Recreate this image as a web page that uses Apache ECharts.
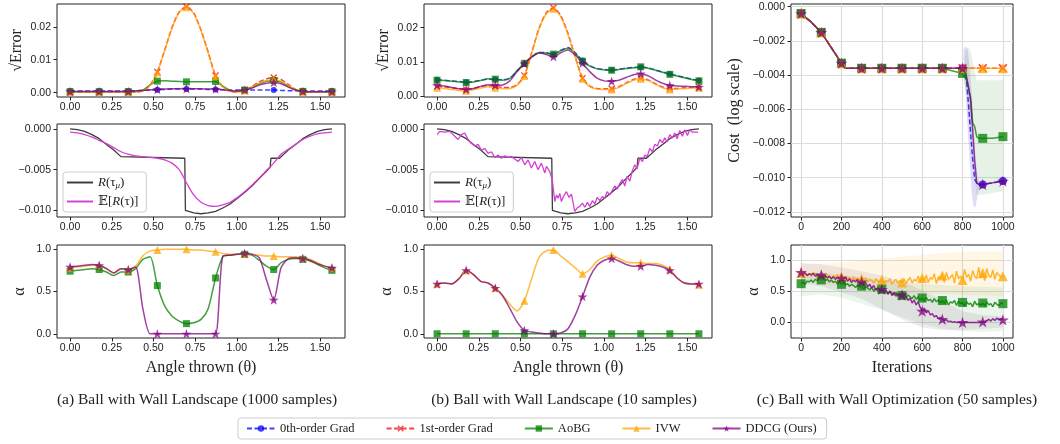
<!DOCTYPE html>
<html>
<head>
<meta charset="utf-8">
<script src="https://cdn.jsdelivr.net/npm/echarts@6/dist/echarts.min.js"></script>
<style>
  html, body { margin: 0; padding: 0; background: #fff; }
  #main { width: 1060px; height: 444px; }
</style>
</head>
<body>
<div id="main"></div>
<script>
const chart = echarts.init(document.getElementById('main'))

// angle thrown (rad), sampled every 2.5 deg; markers every 10 deg
const angles = [0.0000, 0.0436, 0.0873, 0.1309, 0.1745, 0.2182, 0.2618, 0.3054, 0.3491, 0.3927, 0.4363, 0.4800, 0.5236, 0.5672, 0.6109, 0.6545, 0.6981, 0.7418, 0.7854, 0.8290, 0.8727, 0.9163, 0.9599, 1.0036, 1.0472, 1.0908, 1.1345, 1.1781, 1.2217, 1.2654, 1.3090, 1.3526, 1.3963, 1.4399, 1.4835, 1.5272, 1.5708]
const angleTicks = [0, 0.25, 0.5, 0.75, 1.0, 1.25, 1.5]
const iterTicks = [0, 200, 400, 600, 800, 1000]

// (a) sqrt error, 1000 samples
const a1Blue   = [0.0005,0.0005,0.0005,0.0005,0.0005,0.0005,0.0005,0.0005,0.0005,0.0006,0.0007,0.0008,0.0009,0.0010,0.0011,0.0011,0.0011,0.0011,0.0011,0.0010,0.0010,0.0009,0.0008,0.0008,0.0008,0.0008,0.0008,0.0008,0.0008,0.0007,0.0006,0.0006,0.0005,0.0005,0.0005,0.0005,0.0005]
const a1Red    = [0.0002,0.0002,0.0002,0.0002,0.0002,0.0002,0.0002,0.0002,0.0002,0.0002,0.0005,0.0023,0.0063,0.0129,0.0197,0.0245,0.0261,0.0242,0.0190,0.0122,0.0052,0.0018,0.0005,0.0002,0.0008,0.0019,0.0033,0.0042,0.0046,0.0040,0.0025,0.0010,0.0003,0.0002,0.0002,0.0002,0.0002]
const a1Green  = [0.0003,0.0003,0.0003,0.0003,0.0003,0.0003,0.0003,0.0003,0.0003,0.0004,0.0008,0.0024,0.0035,0.0036,0.0035,0.0034,0.0033,0.0033,0.0033,0.0033,0.0034,0.0020,0.0007,0.0004,0.0008,0.0016,0.0027,0.0035,0.0037,0.0032,0.0020,0.0009,0.0004,0.0003,0.0003,0.0003,0.0003]
const a1Orange = [0.0002,0.0002,0.0002,0.0002,0.0002,0.0002,0.0002,0.0002,0.0002,0.0002,0.0005,0.0022,0.0061,0.0127,0.0195,0.0243,0.0259,0.0240,0.0188,0.0120,0.0050,0.0017,0.0005,0.0002,0.0007,0.0017,0.0029,0.0037,0.0040,0.0035,0.0022,0.0009,0.0003,0.0002,0.0002,0.0002,0.0002]
const a1Purple = [0.0004,0.0004,0.0004,0.0004,0.0004,0.0004,0.0004,0.0004,0.0004,0.0005,0.0007,0.0009,0.0010,0.0011,0.0012,0.0012,0.0012,0.0012,0.0012,0.0011,0.0011,0.0009,0.0006,0.0005,0.0008,0.0014,0.0023,0.0029,0.0031,0.0027,0.0017,0.0008,0.0004,0.0003,0.0003,0.0003,0.0003]

// (b) sqrt error, 10 samples
const b1Blue   = [0.0048,0.0047,0.0045,0.0043,0.0041,0.0043,0.0047,0.0050,0.0049,0.0048,0.0053,0.0074,0.0094,0.0114,0.0128,0.0127,0.0122,0.0134,0.0142,0.0127,0.0104,0.0089,0.0081,0.0078,0.0077,0.0079,0.0082,0.0084,0.0085,0.0083,0.0077,0.0071,0.0065,0.0060,0.0055,0.0050,0.0046]
const b1Red    = [0.0028,0.0027,0.0025,0.0022,0.0020,0.0023,0.0028,0.0031,0.0029,0.0026,0.0026,0.0034,0.0061,0.0127,0.0197,0.0243,0.0258,0.0235,0.0183,0.0115,0.0053,0.0030,0.0023,0.0022,0.0022,0.0028,0.0039,0.0049,0.0053,0.0048,0.0037,0.0027,0.0022,0.0023,0.0025,0.0026,0.0027]
const b1Green  = [0.0047,0.0046,0.0044,0.0042,0.0040,0.0042,0.0046,0.0051,0.0050,0.0047,0.0052,0.0075,0.0096,0.0115,0.0127,0.0126,0.0123,0.0133,0.0140,0.0125,0.0102,0.0088,0.0080,0.0077,0.0076,0.0078,0.0081,0.0083,0.0086,0.0082,0.0076,0.0070,0.0064,0.0059,0.0054,0.0049,0.0045]
const b1Orange = [0.0025,0.0023,0.0020,0.0017,0.0016,0.0019,0.0024,0.0028,0.0025,0.0022,0.0023,0.0032,0.0059,0.0125,0.0195,0.0240,0.0255,0.0232,0.0180,0.0112,0.0051,0.0028,0.0021,0.0020,0.0020,0.0026,0.0037,0.0047,0.0051,0.0046,0.0035,0.0025,0.0020,0.0021,0.0023,0.0024,0.0025]
const b1Purple = [0.0032,0.0030,0.0026,0.0022,0.0020,0.0023,0.0029,0.0034,0.0032,0.0033,0.0045,0.0072,0.0095,0.0114,0.0126,0.0122,0.0115,0.0127,0.0135,0.0120,0.0096,0.0072,0.0053,0.0045,0.0044,0.0047,0.0055,0.0063,0.0066,0.0060,0.0048,0.0038,0.0032,0.0030,0.0029,0.0028,0.0027]

// landscape: R(tau_mu) (shared by a and b)
const rMuX = [0, 0.044, 0.087, 0.131, 0.175, 0.218, 0.262, 0.305, 0.315, 0.688, 0.692, 0.742, 0.785, 0.829, 0.873, 0.916, 0.960, 1.004, 1.047, 1.091, 1.134, 1.178, 1.200, 1.205, 1.256, 1.309, 1.353, 1.396, 1.440, 1.484, 1.527, 1.571]
const rMuY = [0, -0.0001, -0.0003, -0.0007, -0.0012, -0.0019, -0.0026, -0.0034, -0.0036, -0.0036, -0.0100, -0.0103, -0.0104, -0.0103, -0.0101, -0.0097, -0.0092, -0.0085, -0.0078, -0.0070, -0.0061, -0.0052, -0.0047, -0.0036, -0.0036, -0.0026, -0.0019, -0.0012, -0.0007, -0.0003, -0.0001, 0]
// E[R(tau)], 1000 samples (on angles)
const a2Mean = [-0.0004,-0.0005,-0.0007,-0.0010,-0.0014,-0.0018,-0.0023,-0.0028,-0.0031,-0.0033,-0.0034,-0.0035,-0.0036,-0.0038,-0.0042,-0.0050,-0.0066,-0.0081,-0.0090,-0.0094,-0.0095,-0.0093,-0.0090,-0.0084,-0.0077,-0.0069,-0.0060,-0.0051,-0.0042,-0.0031,-0.0025,-0.0019,-0.0013,-0.0009,-0.0006,-0.0005,-0.0004]
// E[R(tau)], 10 samples
const b2MeanX = [0.000,0.016,0.046,0.076,0.106,0.126,0.146,0.166,0.186,0.206,0.226,0.246,0.266,0.286,0.306,0.326,0.346,0.366,0.386,0.406,0.426,0.446,0.466,0.486,0.506,0.526,0.546,0.566,0.586,0.606,0.626,0.646,0.656,0.676,0.692,0.706,0.716,0.726,0.736,0.746,0.760,0.776,0.792,0.806,0.826,0.840,0.856,0.872,0.886,0.902,0.916,0.932,0.946,0.960,0.976,0.992,1.006,1.020,1.036,1.052,1.066,1.080,1.096,1.112,1.126,1.140,1.156,1.172,1.186,1.200,1.216,1.232,1.246,1.260,1.276,1.292,1.306,1.322,1.336,1.352,1.366,1.380,1.396,1.412,1.426,1.440,1.456,1.472,1.486,1.502,1.516,1.532,1.566]
const b2MeanY = [-0.0007,-0.0003,-0.0004,-0.0003,-0.0009,-0.0013,-0.0007,-0.0005,-0.0013,-0.0018,-0.0021,-0.0019,-0.0026,-0.0024,-0.0030,-0.0028,-0.0035,-0.0032,-0.0036,-0.0033,-0.0035,-0.0034,-0.0037,-0.0040,-0.0035,-0.0044,-0.0038,-0.0048,-0.0040,-0.0050,-0.0042,-0.0054,-0.0046,-0.0052,-0.0064,-0.0089,-0.0081,-0.0085,-0.0079,-0.0089,-0.0082,-0.0077,-0.0084,-0.0080,-0.0101,-0.0097,-0.0095,-0.0091,-0.0096,-0.0090,-0.0095,-0.0088,-0.0092,-0.0084,-0.0088,-0.0083,-0.0085,-0.0077,-0.0081,-0.0075,-0.0070,-0.0074,-0.0067,-0.0062,-0.0070,-0.0058,-0.0064,-0.0051,-0.0044,-0.0049,-0.0036,-0.0040,-0.0032,-0.0034,-0.0024,-0.0028,-0.0019,-0.0021,-0.0013,-0.0017,-0.0011,-0.0016,-0.0007,-0.0011,-0.0005,-0.0012,-0.0002,-0.0009,-0.0001,-0.0008,-0.0001,-0.0004,-0.0004]

// alpha, 1000 samples
const a3Green  = [0.74,0.75,0.76,0.77,0.76,0.73,0.69,0.73,0.73,0.77,0.88,0.91,0.57,0.33,0.21,0.15,0.12,0.13,0.17,0.30,0.66,0.91,0.93,0.94,0.94,0.93,0.87,0.80,0.76,0.84,0.88,0.89,0.88,0.86,0.82,0.78,0.75]
const a3Orange = [0.78,0.79,0.80,0.81,0.81,0.77,0.72,0.77,0.76,0.80,0.92,0.98,0.99,1.00,1.00,1.00,1.00,0.99,0.99,0.98,0.97,0.95,0.94,0.94,0.95,0.94,0.93,0.92,0.92,0.91,0.91,0.91,0.90,0.88,0.84,0.80,0.78]
const a3Purple = [0.79,0.80,0.81,0.82,0.81,0.77,0.72,0.77,0.76,0.79,0.30,0.00,0.00,0.00,0.00,0.00,0.00,0.00,0.00,0.00,0.00,0.92,0.93,0.94,0.95,0.94,0.90,0.64,0.40,0.78,0.89,0.90,0.89,0.87,0.83,0.80,0.78]

// alpha, 10 samples
const b3Green  = [0,0,0,0,0,0,0,0,0,0,0,0,0,0,0,0,0,0,0,0,0,0,0,0,0,0,0,0,0,0,0,0,0,0,0,0,0]
const b3Orange = [0.59,0.60,0.59,0.65,0.75,0.70,0.62,0.60,0.54,0.46,0.35,0.27,0.39,0.65,0.90,0.98,0.99,0.92,0.85,0.78,0.71,0.76,0.86,0.91,0.93,0.89,0.85,0.84,0.84,0.83,0.83,0.81,0.76,0.66,0.60,0.59,0.58]
const b3Purple = [0.59,0.60,0.59,0.65,0.75,0.70,0.62,0.60,0.54,0.45,0.30,0.14,0.04,0.02,0.01,0.00,0.00,0.01,0.06,0.22,0.44,0.67,0.81,0.87,0.89,0.86,0.82,0.80,0.80,0.82,0.81,0.79,0.75,0.66,0.60,0.59,0.59]

// (c) cost over iterations
const costIter   = [0, 50, 100, 150, 200, 220, 300, 400, 500, 600, 700, 800, 810, 820, 830, 840, 850, 860, 870, 880, 900, 950, 1000]
const costBlue   = [-0.0004,-0.0009,-0.0015,-0.0024,-0.0033,-0.0036,-0.0036,-0.0036,-0.0036,-0.0036,-0.0036,-0.0036,-0.0038,-0.0043,-0.0058,-0.0074,-0.0089,-0.0101,-0.0103,-0.0104,-0.0104,-0.0103,-0.0102]
const costRed    = [-0.0004,-0.0009,-0.0015,-0.0024,-0.0033,-0.0036,-0.0036,-0.0036,-0.0036,-0.0036,-0.0036,-0.0036,-0.0036,-0.0036,-0.0036,-0.0036,-0.0036,-0.0036,-0.0036,-0.0036,-0.0036,-0.0036,-0.0036]
const costGreen  = [-0.0004,-0.0009,-0.0015,-0.0024,-0.0033,-0.0036,-0.0036,-0.0036,-0.0036,-0.0036,-0.0036,-0.0039,-0.0041,-0.0043,-0.0048,-0.0053,-0.0068,-0.0070,-0.0076,-0.0077,-0.0077,-0.0077,-0.0076]
const costOrange = [-0.0004,-0.0009,-0.0015,-0.0024,-0.0033,-0.0036,-0.0036,-0.0036,-0.0036,-0.0036,-0.0036,-0.0036,-0.0036,-0.0036,-0.0036,-0.0036,-0.0036,-0.0036,-0.0036,-0.0036,-0.0036,-0.0036,-0.0036]
const costPurple = [-0.0004,-0.0009,-0.0015,-0.0024,-0.0033,-0.0036,-0.0036,-0.0036,-0.0036,-0.0036,-0.0036,-0.0036,-0.0037,-0.0041,-0.0047,-0.0055,-0.0072,-0.0090,-0.0103,-0.0104,-0.0104,-0.0103,-0.0102]
const costGreenBandX  = [810, 820, 830, 840, 850, 860, 870, 880, 900, 950, 1000]
const costGreenBandLo = [-0.0045,-0.0052,-0.0062,-0.0075,-0.0090,-0.0100,-0.0110,-0.0110,-0.0110,-0.0109,-0.0108]
const costGreenBandHi = [-0.0030,-0.0024,-0.0024,-0.0026,-0.0032,-0.0038,-0.0043,-0.0043,-0.0043,-0.0043,-0.0043]
const costPurpleBandX  = [805, 815, 825, 835, 845, 855, 865, 875, 885]
const costPurpleBandLo = [-0.0040,-0.0050,-0.0070,-0.0090,-0.0108,-0.0117,-0.0117,-0.0110,-0.0105]
const costPurpleBandHi = [-0.0025,-0.0023,-0.0025,-0.0035,-0.0050,-0.0070,-0.0090,-0.0100,-0.0103]

// (c) alpha over iterations, every 10 iterations
const alphaIter = Array.from({ length: 101 }, (_, i) => i * 10)
const alphaOrange = [0.79,0.76,0.80,0.75,0.78,0.74,0.77,0.79,0.73,0.76, 0.75,0.78,0.72,0.76,0.74,0.70,0.75,0.72,0.77,0.71, 0.73,0.69,0.74,0.70,0.72,0.67,0.73,0.69,0.71,0.66, 0.70,0.68,0.72,0.65,0.69,0.67,0.63,0.70,0.66,0.64, 0.68,0.62,0.67,0.65,0.70,0.61,0.66,0.69,0.63,0.67, 0.64,0.70,0.62,0.68,0.72,0.63,0.69,0.66,0.74,0.65, 0.71,0.67,0.76,0.64,0.72,0.69,0.78,0.62,0.73,0.70, 0.75,0.64,0.80,0.69,0.72,0.77,0.63,0.82,0.70,0.74, 0.68,0.85,0.72,0.77,0.66,0.83,0.74,0.70,0.88,0.71, 0.79,0.67,0.86,0.75,0.72,0.84,0.69,0.80,0.76,0.73, 0.74]
const alphaGreen  = [0.62,0.64,0.61,0.66,0.65,0.68,0.64,0.69,0.67,0.70, 0.68,0.71,0.67,0.69,0.65,0.68,0.64,0.66,0.62,0.65, 0.61,0.64,0.60,0.62,0.58,0.61,0.59,0.56,0.60,0.57, 0.58,0.54,0.57,0.55,0.52,0.56,0.50,0.54,0.51,0.48, 0.53,0.49,0.51,0.46,0.50,0.47,0.44,0.48,0.42,0.46, 0.43,0.47,0.40,0.44,0.41,0.38,0.43,0.37,0.41,0.36, 0.39,0.34,0.40,0.35,0.37,0.32,0.38,0.33,0.36,0.31, 0.35,0.30,0.36,0.28,0.33,0.31,0.35,0.27,0.34,0.30, 0.32,0.26,0.33,0.29,0.31,0.25,0.34,0.28,0.30,0.27, 0.31,0.26,0.33,0.28,0.30,0.25,0.32,0.29,0.27,0.31, 0.30]
const alphaPurple = [0.80,0.77,0.79,0.75,0.78,0.76,0.79,0.74,0.77,0.75, 0.76,0.73,0.75,0.71,0.74,0.70,0.73,0.69,0.72,0.70, 0.71,0.67,0.72,0.66,0.70,0.64,0.68,0.65,0.69,0.62, 0.65,0.60,0.64,0.57,0.61,0.55,0.59,0.52,0.56,0.50, 0.53,0.47,0.52,0.45,0.50,0.43,0.48,0.42,0.46,0.40, 0.44,0.38,0.42,0.35,0.39,0.31,0.36,0.28,0.33,0.24, 0.18,0.23,0.15,0.19,0.12,0.14,0.09,0.11,0.06,0.08, 0.05,0.03,0.04,0.01,0.02,0.00,0.01,0.00,0.00,0.00, 0.00,0.00,0.00,0.00,0.00,0.00,0.00,0.00,0.00,0.00, 0.01,0.00,0.03,0.05,0.02,0.06,0.03,0.07,0.04,0.06, 0.04]
const bandIter = [0, 100, 200, 300, 400, 500, 600, 700, 800, 900, 1000]
const orangeBandLo = [0.66, 0.62, 0.58, 0.52, 0.48, 0.46, 0.45, 0.45, 0.44, 0.43, 0.42]
const orangeBandHi = [0.93, 0.94, 0.96, 0.99, 1.02, 1.05, 1.08, 1.11, 1.13, 1.14, 1.13]
const greenBandLo  = [0.42, 0.45, 0.40, 0.30, 0.20, 0.08, -0.02, -0.10, -0.14, -0.15, -0.14]
const greenBandHi  = [0.78, 0.80, 0.76, 0.72, 0.68, 0.64, 0.62, 0.60, 0.58, 0.57, 0.56]
const purpleBandLo = [0.62, 0.58, 0.48, 0.38, 0.22, 0.05, -0.08, -0.12, -0.12, -0.10, -0.08]
const purpleBandHi = [0.95, 0.93, 0.88, 0.82, 0.75, 0.65, 0.52, 0.35, 0.18, 0.12, 0.10]

const SERIF = '"Liberation Serif", "DejaVu Serif", serif'
const SANS = '"Liberation Sans", Arial, sans-serif'
const STAR = 'path://M50,0 L61.2,34.5 L97.6,34.5 L68.2,55.9 L79.4,90.5 L50,69.1 L20.6,90.5 L31.8,55.9 L2.4,34.5 L38.8,34.5 Z'
const XMARK = 'path://M0,14 L14,0 L50,36 L86,0 L100,14 L64,50 L100,86 L86,100 L50,64 L14,100 L0,86 L36,50 Z'
const BAR = 'path://M0,0 L40,0 L40,3 L0,3 Z'

const methods = ['0th-order Grad', '1st-order Grad', 'AoBG', 'IVW', 'DDCG (Ours)']
const styles = {
  '0th-order Grad': { color: '#0000ff', symbol: 'circle', size: 6, dash: [5, 2.5] },
  '1st-order Grad': { color: '#ff0000', symbol: XMARK, size: 7, dash: [5, 2.5] },
  'AoBG': { color: '#008000', symbol: 'rect', size: 7 },
  'IVW': { color: '#ffa500', symbol: 'triangle', size: 8 },
  'DDCG (Ours)': { color: '#800080', symbol: STAR, size: 10 }
}

const every4 = (x, i) => i % 4 === 0
const hundreds = (x, i) => x % 100 === 0

function line(name, gi, xs, ys, markAt, extra) {
  const s = styles[name]
  return Object.assign({
    name: name,
    type: 'line',
    xAxisIndex: gi,
    yAxisIndex: gi,
    data: xs.map((x, i) => markAt(x, i) ? [x, ys[i]] : { value: [x, ys[i]], symbol: 'none' }),
    symbol: s.symbol,
    symbolSize: s.size,
    symbolKeepAspect: true,
    smooth: 0.25,
    lineStyle: { color: s.color, width: 1.5, type: s.dash || 'solid', opacity: 0.75 },
    itemStyle: { color: s.color, opacity: 0.75 },
    emphasis: { disabled: true }
  }, extra || {})
}

function plain(name, gi, xs, ys, color, smooth) {
  return {
    name: name, type: 'line', xAxisIndex: gi, yAxisIndex: gi,
    data: xs.map((x, i) => [x, ys[i]]),
    symbol: 'none', smooth: smooth,
    lineStyle: { color: color, width: 1.3 },
    itemStyle: { color: color },
    emphasis: { disabled: true }
  }
}

function band(gi, xs, lo, hi, color, opacity) {
  return {
    type: 'custom', xAxisIndex: gi, yAxisIndex: gi, silent: true, z: 1,
    data: xs.map((x, i) => [x, lo[i], hi[i]]),
    renderItem: (params, api) => {
      if (params.dataIndex !== 0) return
      const top = xs.map((x, i) => api.coord([x, hi[i]]))
      const bot = xs.map((x, i) => api.coord([x, lo[i]])).reverse()
      return { type: 'polygon', shape: { points: top.concat(bot) }, style: { fill: color, opacity: opacity } }
    }
  }
}

const fmt = d => v => v.toFixed(d).replace('-', '\u2212')
const labelStyle = { fontFamily: SANS, fontSize: 10.5, color: '#222' }
const nameStyle = { fontFamily: SERIF, fontSize: 16, color: '#222' }

// grids: a1 a2 a3 b1 b2 b3 c1 c3
const grids = [
  { left: 57, top: 4, width: 288, height: 93 },
  { left: 57, top: 124, width: 288, height: 93 },
  { left: 57, top: 245, width: 288, height: 93 },
  { left: 424, top: 4, width: 288, height: 93 },
  { left: 424, top: 124, width: 288, height: 93 },
  { left: 424, top: 245, width: 288, height: 93 },
  { left: 791, top: 4, width: 222, height: 213 },
  { left: 791, top: 245, width: 222, height: 93 }
].map(g => Object.assign({ show: true, borderColor: '#222', borderWidth: 1, backgroundColor: 'transparent' }, g))

function xAx(gi, isIter, name) {
  return {
    type: 'value', gridIndex: gi, position: 'bottom',
    min: isIter ? -50 : -0.0785, max: isIter ? 1050 : 1.6493,
    axisLine: { show: false, onZero: false },
    axisTick: { show: true, customValues: isIter ? iterTicks : angleTicks, length: 3.5, lineStyle: { color: '#222' } },
    axisLabel: { customValues: isIter ? iterTicks : angleTicks, formatter: isIter ? fmt(0) : fmt(2), margin: 5, ...labelStyle },
    splitLine: { show: isIter, lineStyle: { color: '#dcdcdc', width: 1.2 } },
    name: name || '', nameLocation: 'middle', nameGap: 22, nameTextStyle: nameStyle
  }
}

function yAx(gi, min, max, ticks, dec, name, gap, grid) {
  return {
    type: 'value', gridIndex: gi, position: 'left', min: min, max: max,
    axisLine: { show: false, onZero: false },
    axisTick: { show: true, customValues: ticks, length: 3.5, lineStyle: { color: '#222' } },
    axisLabel: { customValues: ticks, formatter: fmt(dec), margin: 6, ...labelStyle },
    splitLine: { show: !!grid, lineStyle: { color: '#dcdcdc', width: 1.2 } },
    name: name || '', nameLocation: 'middle', nameRotate: 90, nameGap: gap || 30, nameTextStyle: nameStyle
  }
}

const xAxes = [
  xAx(0), xAx(1), xAx(2, false, 'Angle thrown (\u03b8)'),
  xAx(3), xAx(4), xAx(5, false, 'Angle thrown (\u03b8)'),
  xAx(6, true), xAx(7, true, 'Iterations')
]
const yAxes = [
  yAx(0, -0.0013, 0.0269, [0, 0.01, 0.02], 2, '\u221aError', 32),
  yAx(1, -0.0108, 0.0006, [-0.01, -0.005, 0], 3),
  yAx(2, -0.05, 1.05, [0, 0.5, 1.0], 1, '\u03b1', 29),
  yAx(3, -0.0002, 0.0269, [0, 0.01, 0.02], 2, '\u221aError', 32),
  yAx(4, -0.0108, 0.0006, [-0.01, -0.005, 0], 3),
  yAx(5, -0.05, 1.05, [0, 0.5, 1.0], 1, '\u03b1', 29),
  yAx(6, -0.0123, 0.00016, [-0.012, -0.010, -0.008, -0.006, -0.004, -0.002, 0], 3, 'Cost  (log scale)', 48, true),
  yAx(7, -0.25, 1.24, [0, 0.5, 1.0], 1, '\u03b1', 29, true)
]

const R_MU = 'R(\u03c4\u03bc)'
const E_R = '\u{1D53C}[R(\u03c4)]'
const series = [
  // (a) error
  line(methods[0], 0, angles, a1Blue, every4),
  line(methods[1], 0, angles, a1Red, every4),
  line(methods[2], 0, angles, a1Green, every4),
  line(methods[3], 0, angles, a1Orange, every4),
  line(methods[4], 0, angles, a1Purple, every4),
  // (a) landscape
  plain(R_MU, 1, rMuX, rMuY, '#3c3c3c', false),
  plain(E_R, 1, angles, a2Mean, '#d43fd4', 0.3),
  // (a) alpha
  line(methods[2], 2, angles, a3Green, every4),
  line(methods[3], 2, angles, a3Orange, every4),
  line(methods[4], 2, angles, a3Purple, every4),
  // (b) error
  line(methods[0], 3, angles, b1Blue, every4),
  line(methods[1], 3, angles, b1Red, every4),
  line(methods[2], 3, angles, b1Green, every4),
  line(methods[3], 3, angles, b1Orange, every4),
  line(methods[4], 3, angles, b1Purple, every4),
  // (b) landscape
  plain(R_MU, 4, rMuX, rMuY, '#3c3c3c', false),
  plain(E_R, 4, b2MeanX, b2MeanY, '#d43fd4', false),
  // (b) alpha
  line(methods[2], 5, angles, b3Green, every4),
  line(methods[3], 5, angles, b3Orange, every4),
  line(methods[4], 5, angles, b3Purple, every4),
  // (c) cost
  band(6, costGreenBandX, costGreenBandLo, costGreenBandHi, '#008000', 0.1),
  band(6, costPurpleBandX, costPurpleBandLo, costPurpleBandHi, '#8a70d8', 0.25),
  line(methods[0], 6, costIter, costBlue, hundreds, { smooth: false, symbolSize: 8 }),
  line(methods[1], 6, costIter, costRed, hundreds, { smooth: false, symbolSize: 9 }),
  line(methods[2], 6, costIter, costGreen, hundreds, { smooth: false, symbolSize: 9 }),
  line(methods[3], 6, costIter, costOrange, hundreds, { smooth: false, symbolSize: 10 }),
  line(methods[4], 6, costIter, costPurple, hundreds, { smooth: false, symbolSize: 12 }),
  // (c) alpha
  band(7, bandIter, orangeBandLo, orangeBandHi, '#ffa500', 0.1),
  band(7, bandIter, greenBandLo, greenBandHi, '#008000', 0.08),
  band(7, bandIter, purpleBandLo, purpleBandHi, '#7a5a8a', 0.12),
  line(methods[3], 7, alphaIter, alphaOrange, (x, i) => i % 10 === 0, { smooth: false, symbolSize: 10, lineStyle: { color: '#ffa500', width: 1.5, opacity: 0.8 } }),
  line(methods[2], 7, alphaIter, alphaGreen, (x, i) => i % 10 === 0, { smooth: false, symbolSize: 9, lineStyle: { color: '#008000', width: 1.5, opacity: 0.8 } }),
  line(methods[4], 7, alphaIter, alphaPurple, (x, i) => i % 10 === 0, { smooth: false, symbolSize: 12, lineStyle: { color: '#800080', width: 1.5, opacity: 0.8 } })
]

const inLegend = (left) => ({
  data: [{ name: R_MU, icon: BAR }, { name: E_R, icon: BAR }],
  left: left, top: 172, orient: 'vertical',
  selectedMode: false, itemWidth: 26, itemHeight: 10, itemGap: 5,
  padding: [4, 8, 4, 4], borderColor: '#cccccc', borderWidth: 1, borderRadius: 3,
  backgroundColor: 'rgba(255,255,255,0.8)',
  formatter: n => n === R_MU ? '{i|R}(\u03c4{s|\u03bc})' : '\u{1D53C}[{i|R}(\u03c4)]',
  textStyle: {
    fontFamily: SERIF, fontSize: 13, color: '#222',
    rich: {
      i: { fontFamily: SERIF, fontSize: 13, fontStyle: 'italic', color: '#222' },
      s: { fontFamily: SERIF, fontSize: 9, fontStyle: 'italic', color: '#222', padding: [6, 0, 0, 0] }
    }
  }
})

const option = {
  backgroundColor: '#ffffff',
  animation: false,
  grid: grids,
  xAxis: xAxes,
  yAxis: yAxes,
  legend: [
    {
      data: methods, left: 238, top: 418, selectedMode: false,
      itemWidth: 28, itemHeight: 8, itemGap: 31,
      padding: [4, 10, 4, 8], borderColor: '#cccccc', borderWidth: 1, borderRadius: 3,
      textStyle: { fontFamily: SERIF, fontSize: 12.5, color: '#222' }
    },
    inLegend(63),
    inLegend(430)
  ],
  graphic: [
    { type: 'text', x: 197, y: 400, style: { text: '(a) Ball with Wall Landscape (1000 samples)', fontFamily: SERIF, fontSize: 15.5, fill: '#222', align: 'center', verticalAlign: 'middle' } },
    { type: 'text', x: 564, y: 400, style: { text: '(b) Ball with Wall Landscape (10 samples)', fontFamily: SERIF, fontSize: 15.5, fill: '#222', align: 'center', verticalAlign: 'middle' } },
    { type: 'text', x: 897, y: 400, style: { text: '(c) Ball with Wall Optimization (50 samples)', fontFamily: SERIF, fontSize: 15.5, fill: '#222', align: 'center', verticalAlign: 'middle' } }
  ],
  series: series
}
chart.setOption(option)
</script>
</body>
</html>
